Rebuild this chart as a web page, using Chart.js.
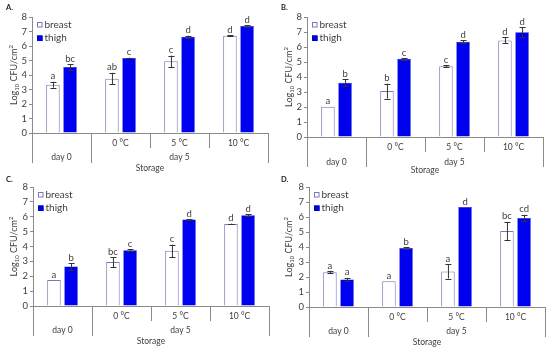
<!DOCTYPE html>
<html>
<head>
<meta charset="utf-8">
<script src="https://cdn.jsdelivr.net/npm/chart.js@4.4.1/dist/chart.umd.min.js"></script>
<style>
  body { margin: 0; background: #fff; width: 550px; height: 347px; position: relative; overflow: hidden; }
  canvas { position: absolute; }
</style>
</head>
<body>
<canvas id="chart-a" width="275" height="176" style="left:0;top:0"></canvas>
<canvas id="chart-b" width="275" height="176" style="left:275px;top:0"></canvas>
<canvas id="chart-c" width="275" height="175" style="left:0;top:172px"></canvas>
<canvas id="chart-d" width="275" height="175" style="left:275px;top:172px"></canvas>
<script>
// Category axis
const categories = ['day 0', '0 °C', '5 °C', '10 °C'];
const subLabels = ['', '0 °C', '5 °C', '10 °C'];
const groupLabels = ['day 0', 'day 5'];
const seriesNames = ['breast', 'thigh'];
const yMin = 0, yMax = 8, yStep = 1;

// Panel A
const breastA = [3.33, 3.75, 4.94, 6.71];
const breastErrA = [0.2, 0.4, 0.4, 0.03];
const thighA = [4.55, 5.17, 6.64, 7.38];
const thighErrA = [0.2, 0.03, 0.07, 0.06];
const breastLetA = ['a', 'ab', 'c', 'd'];
const thighLetA = ['bc', 'c', 'd', 'd'];

// Panel B
const breastB = [2.01, 3.06, 4.72, 6.44];
const breastErrB = [0, 0.5, 0.05, 0.2];
const thighB = [3.62, 5.21, 6.35, 6.99];
const thighErrB = [0.22, 0.05, 0.1, 0.33];
const breastLetB = ['a', 'b', 'c', 'd'];
const thighLetB = ['b', 'c', 'd', 'd'];

// Panel C
const breastC = [1.74, 2.95, 3.71, 5.52];
const breastErrC = [0, 0.33, 0.42, 0.02];
const thighC = [2.66, 3.75, 5.81, 6.1];
const thighErrC = [0.22, 0.05, 0.03, 0.08];
const breastLetC = ['a', 'bc', 'c', 'd'];
const thighLetC = ['b', 'c', 'd', 'd'];

// Panel D
const breastD = [2.32, 1.72, 2.37, 5.07];
const breastErrD = [0.05, 0, 0.47, 0.6];
const thighD = [1.83, 3.93, 6.66, 5.94];
const thighErrD = [0.12, 0.05, 0, 0.2];
const breastLetD = ['a', 'a', 'a', 'bc'];
const thighLetD = ['a', 'b', 'd', 'cd'];

const FONT = 'Lato, "Open Sans", sans-serif';
const BREAST_BORDER = '#7878b8';
const THIGH_FILL = '#0000f0';
const AXIS_COLOR = '#8a8a8a';
const TEXT_COLOR = '#404040';

// Draws error bars, letters, the two-level category axis, y title and legend
function makeDecor(panel) {
  const off = panel.offsets || { sub: 10.5, group: 24, line: 30, storage: 35 };
  return {
    id: 'decor' + panel.letter,
    afterDatasetsDraw(chart) {
      const ctx = chart.ctx;
      const y = chart.scales.y;

      ctx.save();
      // error bars + significance letters
      chart.data.datasets.forEach((ds, i) => {
        const meta = chart.getDatasetMeta(i);
        meta.data.forEach((bar, j) => {
          const v = ds.data[j];
          const e = panel.errs[i][j];
          const top = y.getPixelForValue(v + e);
          if (e > 0) {
            const bot = y.getPixelForValue(v - e);
            ctx.strokeStyle = '#333';
            ctx.lineWidth = 1;
            ctx.beginPath();
            ctx.moveTo(bar.x + 0.5, top);
            ctx.lineTo(bar.x + 0.5, bot);
            ctx.moveTo(bar.x - 2.5, Math.round(top) + 0.5);
            ctx.lineTo(bar.x + 3.5, Math.round(top) + 0.5);
            ctx.moveTo(bar.x - 2.5, Math.round(bot) + 0.5);
            ctx.lineTo(bar.x + 3.5, Math.round(bot) + 0.5);
            ctx.stroke();
          }
          ctx.fillStyle = TEXT_COLOR;
          ctx.font = '9.5px ' + FONT;
          ctx.textAlign = 'center';
          ctx.textBaseline = 'alphabetic';
          ctx.fillText(panel.letters[i][j], bar.x, top - 2.5);
        });
      });
      ctx.restore();
    },
    afterDraw(chart) {
      const ctx = chart.ctx;
      const x = chart.scales.x;
      const area = chart.chartArea;
      const catW = (x.right - x.left) / categories.length;
      const b = area.bottom;

      ctx.save();
      // category separators below the axis
      ctx.strokeStyle = AXIS_COLOR;
      ctx.lineWidth = 1;
      ctx.beginPath();
      for (let k = 0; k <= categories.length; k++) {
        const px = Math.round(x.left + k * catW) + 0.5;
        const len = (k === 2 || k === 3) ? 15 : off.line;
        ctx.moveTo(px, b);
        ctx.lineTo(px, b + len);
      }
      ctx.stroke();

      ctx.fillStyle = TEXT_COLOR;
      ctx.font = '8.5px ' + FONT;
      ctx.textAlign = 'center';
      ctx.textBaseline = 'middle';
      subLabels.forEach((s, k) => {
        if (s) ctx.fillText(s, x.left + (k + 0.5) * catW, b + off.sub);
      });
      ctx.fillText(groupLabels[0], x.left + 0.5 * catW, b + off.group);
      ctx.fillText(groupLabels[1], x.left + 2.5 * catW, b + off.group);
      ctx.fillText('Storage', (area.left + area.right) / 2, b + off.storage);

      // y axis title: Log10 CFU/cm2
      const parts = [['Log', 9, 0], ['10', 6, 2], [' CFU/cm', 9, 0], ['2', 6, -3.5]];
      let total = 0;
      parts.forEach(p => { ctx.font = p[1] + 'px ' + FONT; total += ctx.measureText(p[0]).width; });
      ctx.translate(13.5, (area.top + area.bottom) / 2);
      ctx.rotate(-Math.PI / 2);
      ctx.textAlign = 'left';
      ctx.textBaseline = 'alphabetic';
      let cx = -total / 2;
      parts.forEach(p => {
        ctx.font = p[1] + 'px ' + FONT;
        ctx.fillText(p[0], cx, 3 + p[2]);
        cx += ctx.measureText(p[0]).width;
      });
      ctx.setTransform(1, 0, 0, 1, 0, 0);

      // panel letter
      ctx.fillStyle = '#222';
      ctx.font = 'bold 7.5px ' + FONT;
      ctx.textAlign = 'left';
      ctx.fillText(panel.letter + '.', 6, 10);

      // legend inside plot, top-left
      chart.data.datasets.forEach((ds, i) => {
        const ly = area.top + 7.5 + i * 13.5;
        const lx = area.left + 5;
        ctx.fillStyle = ds.backgroundColor;
        ctx.fillRect(lx, ly - 2.5, 5.5, 5.5);
        ctx.strokeStyle = ds.borderColor;
        ctx.strokeRect(lx + 0.5, ly - 2, 4.5, 4.5);
        ctx.fillStyle = TEXT_COLOR;
        ctx.font = '10px ' + FONT;
        ctx.textBaseline = 'middle';
        ctx.fillText(ds.label, lx + 7.5, ly);
      });
      ctx.restore();
    }
  };
}

function createPanel(id, panel) {
  const canvas = document.getElementById(id);
  const w = canvas.width, h = canvas.height;
  return new Chart(canvas, {
    type: 'bar',
    data: {
      labels: categories,
      datasets: [
        {
          label: seriesNames[0],
          data: panel.breast,
          backgroundColor: '#ffffff',
          borderColor: BREAST_BORDER,
          borderWidth: 1,
          categoryPercentage: 0.58,
          barPercentage: 0.79
        },
        {
          label: seriesNames[1],
          data: panel.thigh,
          backgroundColor: THIGH_FILL,
          borderColor: '#0000c8',
          borderWidth: 0.5,
          categoryPercentage: 0.58,
          barPercentage: 0.79
        }
      ]
    },
    options: {
      responsive: false,
      animation: false,
      layout: { padding: { left: 0, right: w - panel.area.right, top: panel.area.top, bottom: 0 } },
      plugins: { legend: { display: false }, tooltip: { enabled: false } },
      scales: {
        x: {
          offset: true,
          grid: { display: false },
          border: { display: true, color: AXIS_COLOR },
          ticks: { display: false },
          afterFit: s => { s.height = h - panel.area.bottom; }
        },
        y: {
          min: yMin,
          max: yMax,
          ticks: { stepSize: yStep, color: TEXT_COLOR, font: { family: FONT, size: 9.5 }, padding: 2 },
          grid: { drawOnChartArea: false, tickLength: 3, color: AXIS_COLOR },
          border: { display: true, color: AXIS_COLOR },
          afterFit: s => { s.width = panel.area.left; }
        }
      }
    },
    plugins: [makeDecor(panel)]
  });
}

createPanel('chart-a', {
  letter: 'A', breast: breastA, thigh: thighA,
  errs: [breastErrA, thighErrA], letters: [breastLetA, thighLetA],
  area: { left: 32, right: 268, top: 17, bottom: 133 }
});
createPanel('chart-b', {
  letter: 'B', breast: breastB, thigh: thighB,
  errs: [breastErrB, thighErrB], letters: [breastLetB, thighLetB],
  area: { left: 32, right: 268, top: 17, bottom: 137 },
  offsets: { sub: 10, group: 25.5, line: 30, storage: 33.5 }
});
createPanel('chart-c', {
  letter: 'C', breast: breastC, thigh: thighC,
  errs: [breastErrC, thighErrC], letters: [breastLetC, thighLetC],
  area: { left: 33, right: 269, top: 15, bottom: 134 }
});
createPanel('chart-d', {
  letter: 'D', breast: breastD, thigh: thighD,
  errs: [breastErrD, thighErrD], letters: [breastLetD, thighLetD],
  area: { left: 34, right: 270, top: 15, bottom: 135 }
});
</script>
</body>
</html>
